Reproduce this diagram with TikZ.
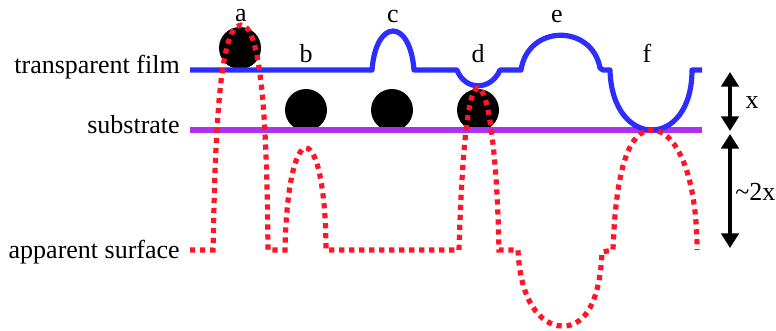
\documentclass[tikz,border=0pt]{standalone}
\usepackage{fontspec}
\setmainfont{Liberation Serif}
\usetikzlibrary{arrows.meta}
\definecolor{filmblue}{RGB}{45,45,255}
\definecolor{subpurple}{RGB}{170,50,240}
\definecolor{apred}{RGB}{255,20,40}
\tikzset{
  lbl/.style={inner sep=0pt, font=\fontsize{19.5}{22}\selectfont},
  ball/.style={circle, fill=black, inner sep=0pt, minimum size=31.5pt},
  film/.style={draw=filmblue, line width=3.9pt, line join=round},
  subline/.style={draw=subpurple, line width=3.9pt},
  apparent/.style={draw=apred, line width=3.9pt, dash pattern=on 3.9pt off 3.6pt},
  dimarrow/.style={draw=black, line width=3pt, {Triangle[length=11pt,width=13pt]}-{Triangle[length=11pt,width=13pt]}}
}
\begin{document}
\begin{tikzpicture}[x=0.75pt,y=-0.75pt]
\useasboundingbox (0,0) rectangle (776,330);
% labels
\node[lbl, anchor=base east] (tfilm) at (180,73) {transparent film};
\node[lbl, anchor=base east] (tsub) at (180,133) {substrate};
\node[lbl, anchor=base east] (tapp) at (180,258) {apparent surface};
\node[lbl, anchor=base] (la) at (241,21) {a};
\node[lbl, anchor=base] (lb) at (306,62) {b};
\node[lbl, anchor=base] (lc) at (393,22) {c};
\node[lbl, anchor=base] (ld) at (478,62) {d};
\node[lbl, anchor=base] (le) at (557,22) {e};
\node[lbl, anchor=base] (lf) at (647,62) {f};
% particles
\node[ball] (pa) at (240,48) {};
\node[ball] (pb1) at (306,110) {};
\node[ball] (pb2) at (392,110) {};
\node[ball] (pd) at (478,110) {};
% substrate
\draw[subline] (190,130) -- (702,130);
% transparent film
\draw[film] (190,70) -- (372,70)
  .. controls (376,18) and (410,18) .. (414,70)
  -- (457,70)
  .. controls (465,91) and (491,91) .. (500,70)
  -- (521,70)
  .. controls (528,24) and (592,24) .. (600,68)
  -- (603,70) -- (610,70)
  .. controls (612,150) and (692,150) .. (692,70)
  -- (702,70);
% apparent surface
\draw[apparent] (190,250) -- (213,250)
  .. controls (215,150) and (218,25) .. (241,25)
  .. controls (264,25) and (267,150) .. (268,250)
  -- (285,250)
  .. controls (286,190) and (295,148) .. (306,148)
  .. controls (317,148) and (326,190) .. (326,250)
  -- (459,250)
  .. controls (462,150) and (468,88) .. (478,88)
  .. controls (488,88) and (497,150) .. (499,250)
  -- (518,250)
  .. controls (520,300) and (540,326) .. (563,326)
  .. controls (586,326) and (600,300) .. (602,252)
  -- (613,250)
  .. controls (616,165) and (630,130) .. (652,130)
  .. controls (674,130) and (697,170) .. (697,250);
% dimension arrows
\coordinate (x1) at (730,72);
\coordinate (x2) at (730,131);
\coordinate (y1) at (730,134);
\coordinate (y2) at (730,248);
\draw[dimarrow] (x1) -- (x2);
\draw[dimarrow] (y1) -- (y2);
\node[lbl, anchor=base] (lx) at (752,108) {x};
\node[lbl, anchor=base west] (l2x) at (735,200) {\textasciitilde2x};
\end{tikzpicture}
\end{document}
